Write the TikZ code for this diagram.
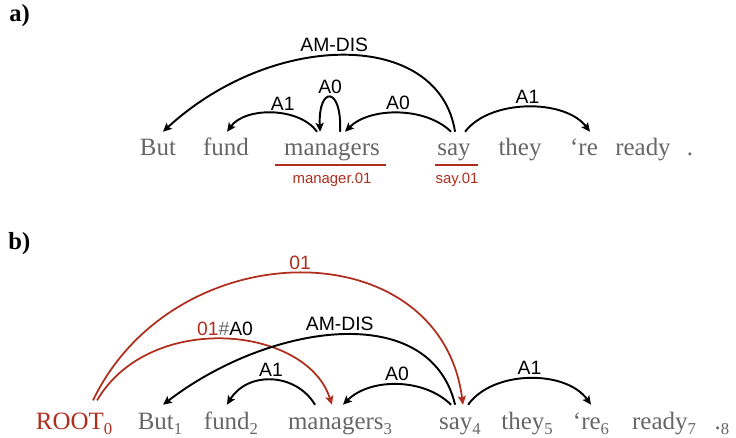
\documentclass[tikz,border=0pt]{standalone}
\usepackage{fontspec}
\setmainfont{Liberation Serif}
\setsansfont{Liberation Sans}
\usetikzlibrary{arrows.meta,positioning}
\definecolor{wordgray}{RGB}{102,102,102}
\definecolor{senred}{RGB}{176,46,30}
\tikzstyle{word}  = [font=\fontsize{14.2}{16}\selectfont, text=wordgray, anchor=base,
                     inner xsep=1pt, inner ysep=1.5pt, text height=12.1pt, text depth=3.55pt]
\tikzstyle{tag}   = [font=\bfseries\fontsize{14}{16}\selectfont, inner sep=0pt, anchor=west]
\tikzstyle{lbl}   = [font=\sffamily\fontsize{11}{12}\selectfont, inner sep=1.5pt]
\tikzstyle{sense} = [font=\sffamily\fontsize{8.5}{10}\selectfont, text=senred, inner sep=1pt]
\tikzstyle{arc}   = [draw, line width=1.1pt, -{Stealth[length=5pt,width=4.6pt,inset=1pt]}]
\tikzstyle{rootarc} = [arc, draw=senred, line width=1pt]
\tikzstyle{uline} = [draw=senred, line width=1.2pt]
\newcommand{\wsub}[1]{\raisebox{-3pt}{\fontsize{9.5}{10}\selectfont #1}}

\begin{document}
\begin{tikzpicture}[x=0.02cm, y=-0.02cm]
	\useasboundingbox (0,0) rectangle (736,438);

	% a) words and senses
	\node[tag] (taga) at (9,16) {a)};
	\node[word] (aBut) at (158,156) {But};
	\node[word] (afund) at (226,156) {fund};
	\node[word] (amanagers) at (332,156) {managers};
	\node[word] (asay) at (454,156) {say};
	\node[word] (athey) at (520,156) {they};
	\node[word] (are) at (584,156) {‘re};
	\node[word] (aready) at (643,156) {ready};
	\node[word] (adot) at (690,156) {.};
	\draw[uline] ([xshift=-4.2pt]amanagers.south west) -- ([xshift=2.5pt]amanagers.south east);
	\draw[uline] (asay.south west) -- ([xshift=3.2pt]asay.south east);
	\node[sense, below=3.5pt of amanagers] (amgrsense) {manager.01};
	\node[sense, below=3.5pt of asay, xshift=1.7pt] (asaysense) {say.01};

	\draw[arc] ([xshift=0.6pt]asay.north) .. controls +(-16,-102) and +(111,-102) .. ([xshift=2.8pt]aBut.north)
		node[lbl, pos=.53, above] {AM-DIS};
	\draw[arc] ([xshift=-8.5pt]amanagers.north) .. controls +(-18,-25) and +(18,-25) .. ([xshift=0.6pt]afund.north)
		node[lbl, pos=.4, above] {A1};
	\draw[arc] ([xshift=4.6pt]amanagers.north) .. controls +(2,-46) and +(-2,-46) .. ([xshift=-6.8pt]amanagers.north)
		node[lbl, midway, above] {A0};
	\draw[arc] ([xshift=-1.7pt]asay.north) .. controls +(-25,-25) and +(25,-25) .. ([xshift=7.4pt]amanagers.north)
		node[lbl, midway, above] {A0};
	\draw[arc] ([xshift=6.3pt]asay.north) .. controls +(25,-33) and +(-25,-33) .. ([xshift=3.4pt]are.north)
		node[lbl, midway, above] {A1};

	% b) words with indices
	\node[tag] (tagb) at (8,244) {b)};
	\node[word, text=senred] (bRoot) at (74,429) {ROOT\wsub{0}};
	\node[word] (bBut) at (160,429) {But\wsub{1}};
	\node[word] (bfund) at (231,429) {fund\wsub{2}};
	\node[word] (bmanagers) at (340,429) {managers\wsub{3}};
	\node[word] (bsay) at (460,429) {say\wsub{4}};
	\node[word] (bthey) at (527,429) {they\wsub{5}};
	\node[word] (bre) at (591,429) {‘re\wsub{6}};
	\node[word] (bready) at (664,429) {ready\wsub{7}};
	\node[word] (bdot) at (722,429) {.\wsub{8}};

	\draw[rootarc] ([xshift=10.8pt,yshift=2.5pt]bRoot.north) .. controls +(82,-170) and +(-23,-175) .. ([xshift=1.7pt]bsay.north)
		node[lbl, midway, above, text=senred] {01};
	\draw[rootarc] ([xshift=13.1pt,yshift=2.5pt]bRoot.north) .. controls +(53,-90) and +(-25,-79) .. ([xshift=-4.6pt]bmanagers.north)
		node[lbl, midway, above] {{\color{senred}01}{\color{wordgray}\#}A0};
	\draw[arc] ([xshift=-2.8pt]bsay.north) .. controls +(-25,-105) and +(107,-82) .. ([xshift=1.7pt]bBut.north)
		node[lbl, midway, above] {AM-DIS};
	\draw[arc] ([xshift=-14.2pt]bmanagers.north) .. controls +(-20,-33) and +(20,-33) .. ([xshift=-2.3pt]bfund.north)
		node[lbl, midway, above] {A1};
	\draw[arc] ([xshift=-5.1pt]bsay.north) .. controls +(-27,-27) and +(27,-27) .. ([xshift=1.7pt]bmanagers.north)
		node[lbl, midway, above] {A0};
	\draw[arc] ([xshift=4.6pt]bsay.north) .. controls +(25,-35) and +(-25,-35) .. (bre.north)
		node[lbl, midway, above] {A1};
\end{tikzpicture}
\end{document}
